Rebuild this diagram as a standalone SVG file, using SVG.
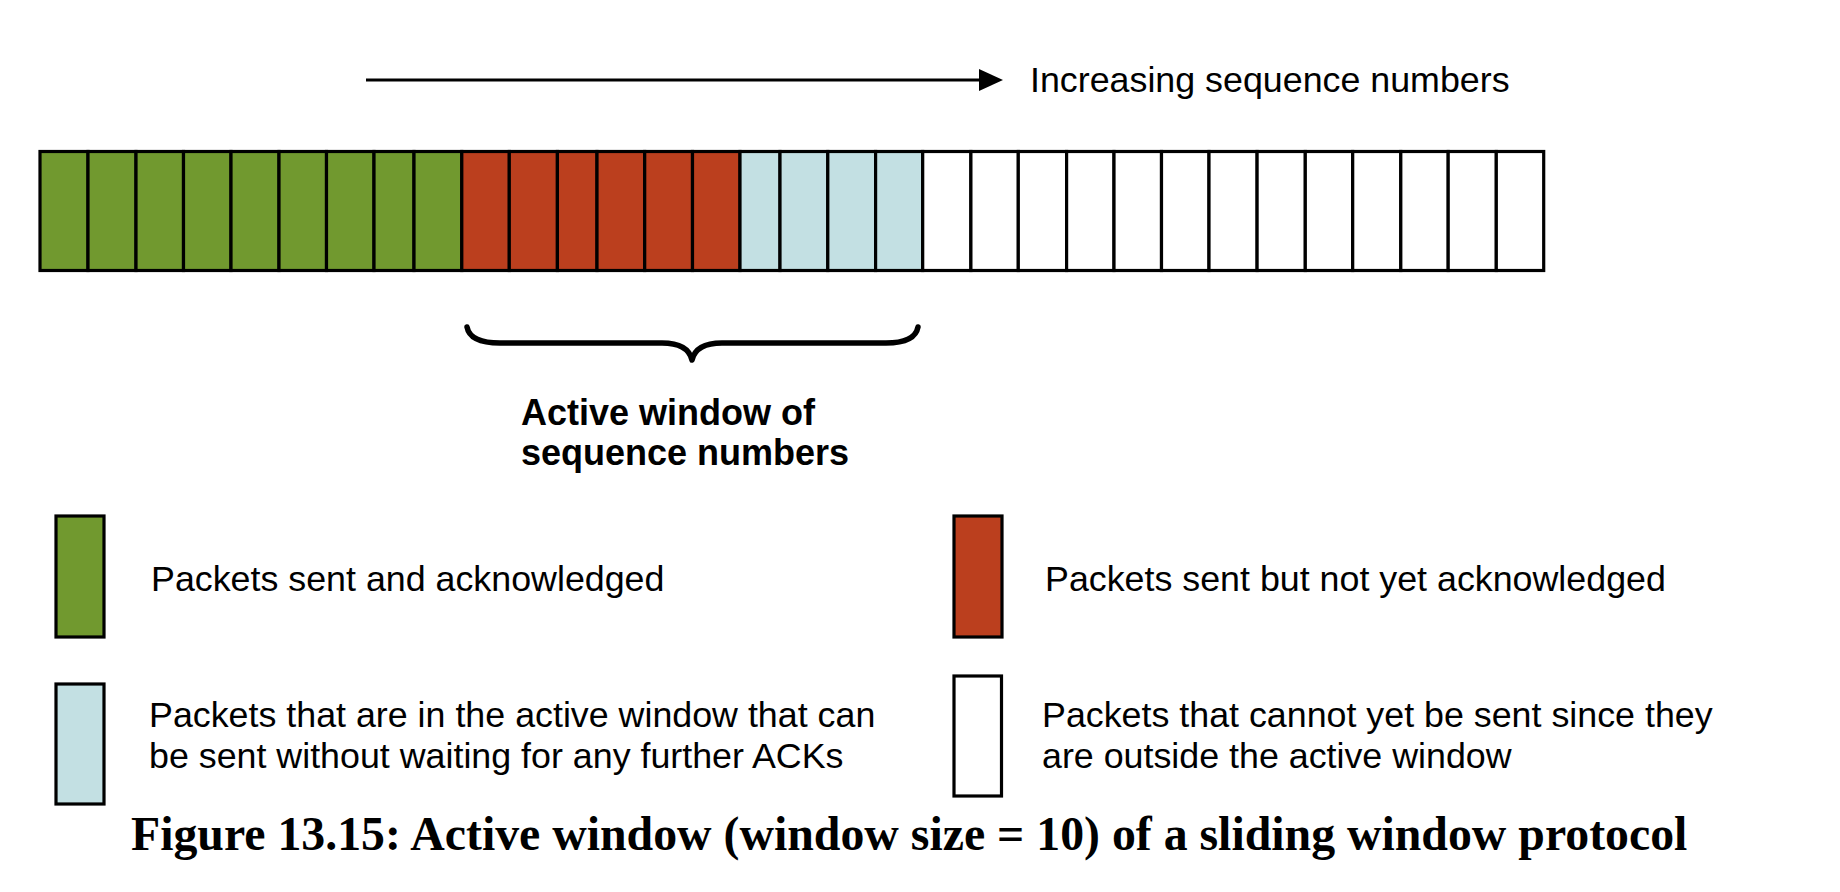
<svg xmlns="http://www.w3.org/2000/svg" width="1840" height="892" viewBox="0 0 1840 892">
<style>
.c{stroke:#000;stroke-width:3.2}
.g{fill:#71992F}
.r{fill:#BB3F1E}
.b{fill:#C3E0E3}
.w{fill:#FFFFFF}
.t{font-family:"Liberation Sans",Arial,sans-serif;font-size:35.8px;fill:#000}
.tb{font-family:"Liberation Sans",Arial,sans-serif;font-size:36px;font-weight:bold;fill:#000}
.cap{font-family:"Liberation Serif","Times New Roman",serif;font-size:47.8px;font-weight:bold;fill:#000}
</style>
<rect width="1840" height="892" fill="#fff"/>
<g id="connectors">
<line x1="366" y1="80" x2="981" y2="80" stroke="#000" stroke-width="3"/>
<polygon points="979,69 1003,80 979,91" fill="#000"/>
</g>
<g id="label-increasing"><text class="t" x="1030" y="92">Increasing sequence numbers</text></g>
<g id="sequence-bar">
<rect class="c g" x="40" y="151.5" width="48" height="119"/>
<rect class="c g" x="88" y="151.5" width="48" height="119"/>
<rect class="c g" x="136" y="151.5" width="47.5" height="119"/>
<rect class="c g" x="183.5" y="151.5" width="47.5" height="119"/>
<rect class="c g" x="231" y="151.5" width="48" height="119"/>
<rect class="c g" x="279" y="151.5" width="47.5" height="119"/>
<rect class="c g" x="326.5" y="151.5" width="47.5" height="119"/>
<rect class="c g" x="374" y="151.5" width="40" height="119"/>
<rect class="c g" x="414" y="151.5" width="47.8" height="119"/>
<rect class="c r" x="461.8" y="151.5" width="47.5" height="119"/>
<rect class="c r" x="509.3" y="151.5" width="48.1" height="119"/>
<rect class="c r" x="557.4" y="151.5" width="39.6" height="119"/>
<rect class="c r" x="597" y="151.5" width="47.7" height="119"/>
<rect class="c r" x="644.7" y="151.5" width="47.8" height="119"/>
<rect class="c r" x="692.5" y="151.5" width="47.5" height="119"/>
<rect class="c b" x="740" y="151.5" width="40" height="119"/>
<rect class="c b" x="780" y="151.5" width="47.8" height="119"/>
<rect class="c b" x="827.8" y="151.5" width="47.8" height="119"/>
<rect class="c b" x="875.6" y="151.5" width="47.1" height="119"/>
<rect class="c w" x="922.7" y="151.5" width="48.2" height="119"/>
<rect class="c w" x="970.9" y="151.5" width="47.4" height="119"/>
<rect class="c w" x="1018.3" y="151.5" width="48.3" height="119"/>
<rect class="c w" x="1066.6" y="151.5" width="47.4" height="119"/>
<rect class="c w" x="1114" y="151.5" width="47.5" height="119"/>
<rect class="c w" x="1161.5" y="151.5" width="47.5" height="119"/>
<rect class="c w" x="1209" y="151.5" width="48.1" height="119"/>
<rect class="c w" x="1257.1" y="151.5" width="48.2" height="119"/>
<rect class="c w" x="1305.3" y="151.5" width="47.4" height="119"/>
<rect class="c w" x="1352.7" y="151.5" width="48.1" height="119"/>
<rect class="c w" x="1400.8" y="151.5" width="47.4" height="119"/>
<rect class="c w" x="1448.2" y="151.5" width="48.1" height="119"/>
<rect class="c w" x="1496.3" y="151.5" width="47.4" height="119"/>
</g>
<g id="active-window-brace">
<path d="M467,327 Q470,343 500,343 L662,343 Q688,343 692,360 Q696,343 722,343 L886,343 Q915,343 918,327" fill="none" stroke="#000" stroke-width="5.5" stroke-linecap="round" stroke-linejoin="round"/>
<text class="tb" x="521" y="425">Active window of</text>
<text class="tb" x="521" y="465">sequence numbers</text>
</g>
<g id="legend-acked">
<rect class="c g" x="56" y="516" width="48" height="121"/>
<text class="t" x="151" y="591">Packets sent and acknowledged</text>
</g>
<g id="legend-unacked">
<rect class="c r" x="954" y="516" width="48" height="121"/>
<text class="t" x="1045" y="591">Packets sent but not yet acknowledged</text>
</g>
<g id="legend-sendable">
<rect class="c b" x="56" y="684" width="48" height="120"/>
<text class="t" x="149" y="727">Packets that are in the active window that can</text>
<text class="t" x="149" y="768">be sent without waiting for any further ACKs</text>
</g>
<g id="legend-outside">
<rect class="c w" x="954" y="676" width="47.5" height="120"/>
<text class="t" x="1042" y="727">Packets that cannot yet be sent since they</text>
<text class="t" x="1042" y="768">are outside the active window</text>
</g>
<g id="caption"><text class="cap" x="131" y="850">Figure 13.15: Active window (window size = 10) of a sliding window protocol</text></g>
</svg>
